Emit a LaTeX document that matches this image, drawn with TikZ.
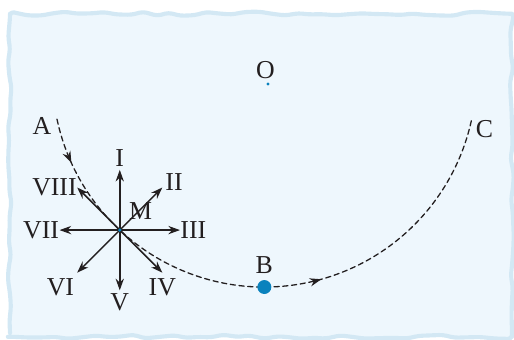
\documentclass[tikz,border=0pt]{standalone}
\usepackage{fontspec}
\setmainfont{Liberation Serif}
\usetikzlibrary{calc,arrows.meta,decorations.markings,decorations.pathmorphing}

\definecolor{paper}{HTML}{EEF7FD}
\definecolor{rim}{HTML}{D3E8F4}
\definecolor{dotblue}{HTML}{0A82BD}
\definecolor{ink}{HTML}{231F20}

\tikzset{
  vec/.style={-{Stealth[length=4.5pt,width=3.2pt]},line width=0.6pt,ink},
  track/.style={ink,line width=0.5pt,dash pattern=on 2pt off 1.4pt,
    postaction={decorate},
    decoration={markings,
      mark=at position 0.08 with {\arrow{Stealth[length=4.5pt,width=3.2pt]}},
      mark=at position 0.60 with {\arrow{Stealth[length=4.5pt,width=3.2pt]}}}},
  lbl/.style={inner sep=1pt,text=ink}
}

\begin{document}
\begin{tikzpicture}[line cap=round,line join=round]
\pgfmathsetseed{7}
\useasboundingbox (0,0) rectangle (7,4.617);

% paper with a wobbly rim
\draw[rim,line width=1.6pt,fill=paper,
  decoration={random steps,segment length=5pt,amplitude=0.8pt},
  decorate,rounded corners=1.5pt]
  (0.136,0.03) rectangle (6.973,4.43);

% centre of the track and the marked points
\coordinate (Z) at (3.6,3.595);
\coordinate (O) at (3.65,3.473);
\coordinate (A) at ($(Z)+(192:2.887)$);
\coordinate (C) at ($(Z)+(348:2.887)$);
\coordinate (B) at ($(Z)+(270:2.887)$);
\coordinate (M) at ($(Z)+(227:2.887)$);

% the track A -> B -> C
\draw[track] (A) arc[start angle=192,end angle=348,radius=2.887];

% tips of the eight directions at M
\coordinate (tI)    at ($(M)+(90:0.82)$);
\coordinate (tII)   at ($(M)+(45:0.82)$);
\coordinate (tIII)  at ($(M)+(0:0.82)$);
\coordinate (tIV)   at ($(M)+(-45:0.82)$);
\coordinate (tV)    at ($(M)+(-90:0.82)$);
\coordinate (tVI)   at ($(M)+(-135:0.82)$);
\coordinate (tVII)  at ($(M)+(180:0.82)$);
\coordinate (tVIII) at ($(M)+(135:0.82)$);

\draw[vec] (M) -- (tI);
\draw[vec] (M) -- (tII);
\draw[vec] (M) -- (tIII);
\draw[vec] (M) -- (tIV);
\draw[vec] (M) -- (tV);
\draw[vec] (M) -- (tVI);
\draw[vec] (M) -- (tVII);
\draw[vec] (M) -- (tVIII);

\node[lbl,anchor=south]            (lI)    at (tI)    {I};
\node[lbl,anchor=west,yshift=2pt]  (lII)   at (tII)   {II};
\node[lbl,anchor=west,inner sep=0pt] (lIII) at (tIII) {III};
\node[lbl,anchor=north,yshift=-1pt] (lIV)  at (tIV)   {IV};
\node[lbl,anchor=north]            (lV)    at (tV)    {V};
\node[lbl,anchor=north east,yshift=-1pt] (lVI) at (tVI) {VI};
\node[lbl,anchor=east,inner sep=0pt] (lVII) at (tVII) {VII};
\node[lbl,anchor=east,inner sep=0pt] (lVIII) at (tVIII) {VIII};

% point marks + labels
\fill[dotblue] (M) circle (0.025);
\fill[dotblue] (O) circle (0.022);
\fill[dotblue] (B) circle (0.095);
\node[lbl,anchor=south west,inner sep=0pt] (lM) at ($(M)+(0.12,0.14)$) {M};
\node[lbl,above,inner sep=2pt,xshift=-1pt] (lO) at (O) {O};
\node[lbl,above,inner sep=5pt] (lB) at (B) {B};
\node[lbl,left,inner sep=2pt,yshift=-2.7pt] (lA) at (A) {A};
\node[lbl,anchor=west,inner sep=1.4pt,yshift=-4pt] (lC) at (C) {C};

\end{tikzpicture}
\end{document}
